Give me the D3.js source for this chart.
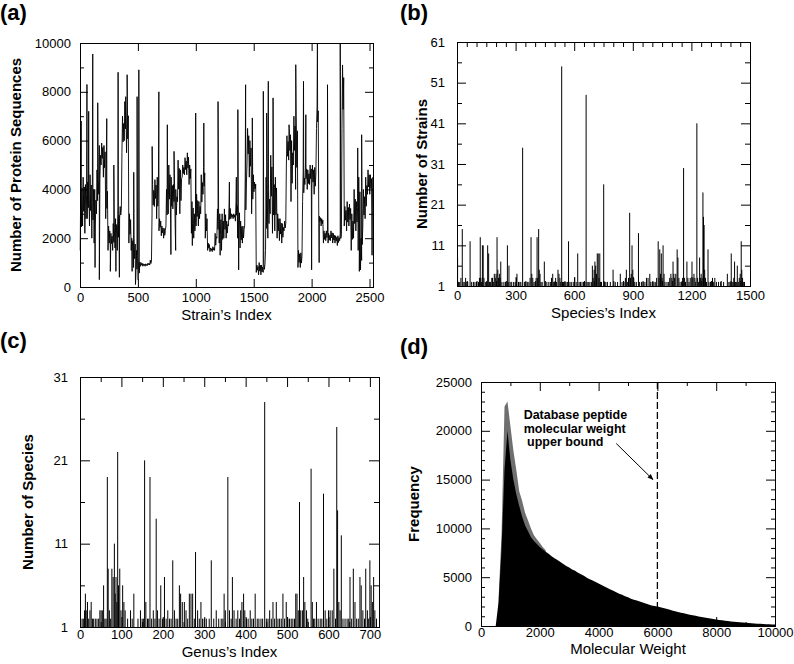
<!DOCTYPE html>
<html><head><meta charset="utf-8">
<script src="https://cdn.jsdelivr.net/npm/d3@7"></script>
<style>
body{margin:0;background:#fff}
svg text{font-family:"Liberation Sans",Arial,Helvetica,sans-serif;fill:#000}
</style></head><body>
<svg id="chart" width="794" height="664"></svg>
<script>
// ---------- (a) number of protein sequences per strain ----------
// dense series summarised per window of 20 strains: typical low / high of the window
const strainWindow = 20;
const proteinLow = [
1500,2500,2200,2800,2500,2000,1800,3000,3800,5000,
4500,2800,1500,1600,1500,1600,1500,2800,5500,6000,
5500,1800,1500,800,400,300,850,850,850,880,
900,3000,3300,2800,2300,2100,2000,2500,3000,2800,
3200,2500,3500,3000,4500,4600,4600,4200,2200,2000,
2500,2500,3000,3800,2000,1500,1450,1450,1500,2000,
1800,1500,2000,2000,2500,2800,2800,2700,2000,1600,
1800,2500,5000,4500,3000,3900,600,500,500,600,
1500,2000,3000,2200,2300,2000,1900,1800,2300,5000,
5200,3500,5000,4000,800,800,3500,4200,4000,4200,
4000,3800,6500,2600,2500,1800,1900,1800,1900,1800,
1800,1700,1900,6500,2500,2300,2500,1500,2000,2300,
1500,700,2500,2800,3800,3800,1300
];
const proteinHigh = [
4700,4500,4200,4300,4600,4500,4000,4800,5800,5900,
5800,4200,2500,2200,2600,2800,3300,3300,7000,7600,
7400,3000,2000,2000,1500,1200,1000,950,950,980,
1100,4200,4400,4500,2800,2500,2400,4000,5000,4500,
4200,4000,5200,4800,5000,5300,5500,5000,3500,3000,
3800,3500,4600,4900,3000,1800,1600,1650,2200,3200,
3000,3000,3200,2700,3400,3000,3000,3500,3300,2700,
2500,4700,6500,6000,5000,4300,900,1000,900,1000,
4500,4000,5400,4700,4500,3000,2800,2600,2700,6200,
6500,6000,7000,7000,1500,1400,4700,5000,4800,5000,
5000,4900,7400,2900,2800,2300,2300,2200,2300,2200,
2100,2100,2200,9100,3300,3500,3400,3000,4000,3500,
4500,2000,4000,4500,4800,4600,4500
];
// isolated single-strain excursions
const spikeStrain = [10,60,75,110,130,153,167,231,262,292,310,329,340,395,407,450,464,479,493,508,623,681,754,785,812,826,970,999,1069,1192,1210,1290,1350,1363,1370,1430,1488,1583,1612,1626,1667,1805,1863,1930,1950,2000,2050,2065,2137,2247,2398,2412,2432];
const spikeValue  = [6800,8300,7200,9550,800,7550,300,6900,640,5000,640,8800,400,7800,8700,640,4700,100,7800,8900,5760,8000,6650,1330,5560,1500,1700,7130,6720,7600,1300,4300,4500,7270,700,8290,6930,8020,7130,8430,7750,6650,9110,8430,7060,700,10000,1000,8290,10000,5700,640,6240];
const strainTicks = [0,500,1000,1500,2000,2500];
const proteinTicks = [0,2000,4000,6000,8000,10000];

// ---------- (b) number of strains per species (species with more than one strain) ----------
const speciesIndex = [3,8,14,20,27,31,37,44,50,55,67,75,84,92,100,110,115,119,122,126,130,134,138,145,152,157,162,167,172,178,182,186,191,196,200,205,209,213,217,221,224,230,240,248,258,262,266,272,280,290,298,304,307,315,322,327,336,345,352,360,368,374,379,383,388,394,400,405,410,413,418,421,425,430,436,447,460,470,478,484,490,495,500,505,510,517,522,527,531,536,540,545,552,558,565,571,578,585,595,602,610,618,625,632,640,648,655,661,666,672,680,688,693,697,702,706,710,714,718,723,727,731,735,740,751,756,762,770,785,799,810,822,836,845,855,862,867,872,878,884,888,892,896,900,905,910,918,929,935,945,953,962,970,978,987,992,1000,1008,1015,1022,1030,1034,1038,1042,1046,1050,1055,1060,1065,1075,1082,1089,1095,1100,1106,1110,1114,1120,1127,1131,1136,1142,1150,1155,1160,1165,1170,1177,1182,1188,1194,1203,1208,1213,1218,1222,1228,1232,1237,1242,1246,1250,1255,1259,1262,1265,1268,1272,1277,1285,1290,1298,1308,1314,1320,1328,1339,1350,1365,1384,1392,1398,1404,1408,1413,1417,1421,1425,1430,1435,1440,1445,1450,1455,1458,1462,1466,1472];
const strainsPerSpecies = [8,2,2,3,15,2,2,3,2,2,12,2,2,2,2,2,3,13,3,2,11,11,3,2,2,11,9,2,2,3,3,2,4,3,4,13,5,3,4,3,7,2,2,2,11,2,6,2,2,2,2,3,4,2,2,2,35,2,2,2,2,3,13,4,3,2,2,3,13,3,15,5,4,2,2,7,2,2,2,3,4,2,2,3,2,5,4,3,2,55,2,2,2,2,2,12,2,2,2,3,2,9,2,2,2,2,2,48,2,2,2,2,6,3,5,7,6,4,9,9,3,9,2,2,26,2,2,2,2,5,2,2,4,2,2,3,5,2,3,19,3,4,11,5,3,2,2,14,2,2,2,2,3,3,4,2,2,2,2,3,12,3,10,4,9,3,11,4,2,2,2,3,4,3,7,4,3,4,10,8,3,2,2,3,30,3,2,7,3,2,3,7,3,4,3,2,41,3,2,8,3,4,3,24,18,16,5,3,2,10,2,2,3,2,3,2,2,2,2,4,2,2,9,2,2,3,7,2,2,6,2,3,4,12,5,3,2,2];
const speciesTicks = [0,300,600,900,1200,1500];
const strainCountTicks = [1,11,21,31,41,51,61];

// ---------- (c) number of species per genus (genera with more than one species) ----------
const genusIndex = [5,8,11,13,15,18,21,24,27,30,33,37,41,45,48,51,54,57,60,63,66,68,71,74,77,80,83,85,87,89,91,93,96,99,103,106,109,115,122,126,130,140,146,150,153,156,159,163,166,169,173,177,181,184,187,191,195,199,204,208,212,216,220,224,228,232,236,240,243,247,252,256,260,264,268,272,276,279,284,288,292,296,300,305,312,317,323,329,335,341,345,348,351,357,361,365,368,372,377,381,385,388,391,395,398,402,406,411,415,419,423,428,432,437,441,446,450,454,458,462,466,470,474,478,482,486,490,494,498,502,506,510,514,518,521,524,527,530,533,537,540,543,547,550,558,561,564,567,571,575,580,584,588,592,596,600,604,609,613,617,620,622,625,628,631,635,640,645,649,652,656,660,664,668,672,676,679,683,687,690,694,697,700,703,706,709,712,716];
const speciesPerGenus = [2,2,3,5,3,4,2,3,4,2,2,2,2,2,3,3,3,6,2,2,19,8,3,2,8,7,11,5,7,4,22,6,8,3,6,4,3,2,3,2,5,2,3,2,2,21,4,2,2,19,2,3,2,14,3,2,6,2,7,2,3,2,2,9,3,2,2,6,5,4,4,3,2,5,5,5,2,10,3,2,4,2,2,2,2,9,2,3,2,2,2,5,3,19,3,2,7,3,2,3,2,3,4,5,3,2,2,3,2,2,5,2,2,2,2,28,2,2,3,2,4,2,4,2,2,2,5,2,4,2,2,2,2,2,5,5,3,16,3,3,7,4,3,2,20,4,2,2,4,2,2,2,17,3,2,3,3,3,8,2,25,15,4,3,12,2,2,2,2,7,2,8,4,2,2,7,6,3,2,8,3,2,9,6,4,7,3,2];
const genusTicks = [0,100,200,300,400,500,600,700];
const speciesCountTicks = [1,11,21,31];

// ---------- (d) molecular weight histogram (100 Da bins) ----------
const mwBins = [500,600,700,800,900,1000,1100,1200,1300,1400,1500,1600,1700,1800,1900,2000,2100,2200,2300,2400,2500,2600,2700,2800,2900,3000,3100,3200,3300,3400,3500,3600,3700,3800,3900,4000,4100,4200,4300,4400,4500,4600,4700,4800,4900,5000,5100,5200,5300,5400,5500,5600,5700,5800,5900,6000,6100,6200,6300,6400,6500,6600,6700,6800,6900,7000,7100,7200,7300,7400,7500,7600,7700,7800,7900,8000,8100,8200,8300,8400,8500,8600,8700,8800,8900,9000,9100,9200,9300,9400,9500,9600,9700,9800,9900,10000];
const freqBody = [0,2500,8000,16000,20000,17000,15000,13500,12300,11200,10300,9700,9100,8700,8400,8100,7850,7600,7400,7150,6950,6750,6550,6350,6150,6000,5800,5650,5450,5300,5150,4950,4800,4650,4500,4350,4200,4050,3900,3750,3600,3450,3300,3200,3050,2950,2800,2700,2600,2500,2400,2300,2200,2100,2050,2000,1920,1840,1760,1680,1600,1520,1440,1370,1300,1230,1160,1100,1040,980,920,860,810,760,710,660,620,580,540,500,470,440,410,380,350,330,300,280,260,240,220,200,185,170,160,150];
// lighter fringe of the tallest bins near the peak
const fringeBins = [600,700,800,900,1000,1100,1200,1300,1400,1500,1600,1700,1800,1900,2000,2100,2200];
const fringeFreq = [3000,9500,22500,23000,20500,18000,16000,13800,12800,11600,10800,10000,9300,8900,8500,8100,7750];
const mwTicks = [0,2000,4000,6000,8000,10000];
const freqTicks = [0,5000,10000,15000,20000,25000];
const mwUpperBound = 6000;
const annotationLines = ["Database peptide","molecular weight"," upper bound"];

const svg = d3.select("#chart");

function frame(cfg){
  const g = svg.append("g");
  const x = d3.scaleLinear().domain(cfg.xDomain).range([cfg.left, cfg.right]);
  const y = d3.scaleLinear().domain(cfg.yDomain).range([cfg.bottom, cfg.top]);
  const plot = g.append("g");
  const add = (gen, tr, labels) => {
    const a = g.append("g").attr("transform", tr).call(gen);
    a.select(".domain").remove();
    a.attr("font-size", 13).attr("font-family", null);
    a.selectAll("line").attr("stroke", "#000");
    if (!labels) a.selectAll("text").remove();
    return a;
  };
  const fmt = d3.format("d");
  add(d3.axisBottom(x).tickValues(cfg.xMajor).tickSize(-cfg.majLen).tickPadding(cfg.xPad).tickFormat(fmt), `translate(0,${cfg.bottom})`, true);
  add(d3.axisTop(x).tickValues(cfg.xMajor).tickSize(-cfg.majLen), `translate(0,${cfg.top})`, false);
  add(d3.axisLeft(y).tickValues(cfg.yMajor).tickSize(-cfg.majLen).tickPadding(cfg.yPad).tickFormat(fmt), `translate(${cfg.left},0)`, true);
  add(d3.axisRight(y).tickValues(cfg.yMajor).tickSize(-cfg.majLen), `translate(${cfg.right},0)`, false);
  if (cfg.xMinor) {
    add(d3.axisBottom(x).tickValues(cfg.xMinor).tickSize(-cfg.minLen), `translate(0,${cfg.bottom})`, false);
    add(d3.axisTop(x).tickValues(cfg.xMinor).tickSize(-cfg.minLen), `translate(0,${cfg.top})`, false);
  }
  if (cfg.yMinor) {
    add(d3.axisLeft(y).tickValues(cfg.yMinor).tickSize(-cfg.minLen), `translate(${cfg.left},0)`, false);
    add(d3.axisRight(y).tickValues(cfg.yMinor).tickSize(-cfg.minLen), `translate(${cfg.right},0)`, false);
  }
  g.append("rect").attr("x", cfg.left + 0.5).attr("y", cfg.top + 0.5)
    .attr("width", cfg.right - cfg.left).attr("height", cfg.bottom - cfg.top)
    .attr("fill", "none").attr("stroke", "#000").attr("stroke-width", 1);
  g.append("text").attr("x", (cfg.left + cfg.right) / 2).attr("y", cfg.xTitleY)
    .attr("text-anchor", "middle").attr("font-size", 15).text(cfg.xTitle);
  g.append("text").attr("transform", `translate(${cfg.yTitleX},${(cfg.top + cfg.bottom) / 2}) rotate(-90)`)
    .attr("text-anchor", "middle").attr("dy", "0.35em").attr("font-size", 15).attr("font-weight", "bold").text(cfg.yTitle);
  g.append("text").attr("x", cfg.labelX).attr("y", cfg.labelY)
    .attr("font-size", 22).attr("font-weight", "bold").text(cfg.label);
  return {x, y, plot};
}
const minorsBetween = (arr, step) => arr.slice(0, -1).map(v => v + step);

// ---------- panel (a) ----------
{
  const p = frame({left:80, right:373, top:43, bottom:287, xDomain:[0,2530], yDomain:[0,10000],
    xMajor: strainTicks, yMajor: proteinTicks,
    yMinor: minorsBetween(proteinTicks, 1000),
    majLen:8, minLen:4, xPad:6, yPad:9,
    xTitle:"Strain\u2019s Index", xTitleY:320, yTitle:"Number of Protein Sequences", yTitleX:16,
    label:"(a)", labelX:0, labelY:20});
  // trace: within each window the line runs from its low to its high, plus single-strain spikes
  const pts = [];
  proteinLow.forEach((lo, i) => {
    const s = i * strainWindow;
    pts.push([s + 2, lo], [s + 7, proteinHigh[i]], [s + 12, lo + (proteinHigh[i] - lo) * 0.3], [s + 17, proteinHigh[i] - (proteinHigh[i] - lo) * 0.2]);
  });
  spikeStrain.forEach((s, i) => pts.push([s, spikeValue[i]]));
  pts.sort((a, b) => a[0] - b[0]);
  p.plot.append("path").datum(pts.filter(d => d[0] <= 2530))
    .attr("d", d3.line().x(d => p.x(d[0])).y(d => p.y(d[1])))
    .attr("fill", "none").attr("stroke", "#000").attr("stroke-width", 0.9);
}

// ---------- panel (b) ----------
{
  const xMinor = d3.range(50, 1500, 50).filter(v => v % 300 !== 0);
  const p = frame({left:457, right:750, top:42, bottom:286, xDomain:[0,1500], yDomain:[1,61],
    xMajor: speciesTicks, yMajor: strainCountTicks,
    xMinor, yMinor: minorsBetween(strainCountTicks, 5),
    majLen:9, minLen:5, xPad:5, yPad:12,
    xTitle:"Species\u2019s Index", xTitleY:318, yTitle:"Number of Strains", yTitleX:422,
    label:"(b)", labelX:400, labelY:20});
  p.plot.selectAll("line").data(d3.zip(speciesIndex, strainsPerSpecies)).join("line")
    .attr("x1", d => p.x(d[0])).attr("x2", d => p.x(d[0]))
    .attr("y1", p.y(1)).attr("y2", d => p.y(d[1]))
    .attr("stroke", "#000").attr("stroke-width", 1);
}

// ---------- panel (c) ----------
{
  const xMinor = minorsBetween(genusTicks, 50);
  const p = frame({left:80, right:379, top:377, bottom:627, xDomain:[0,722], yDomain:[1,31],
    xMajor: genusTicks, yMajor: speciesCountTicks,
    xMinor, yMinor: minorsBetween(speciesCountTicks, 5),
    majLen:10, minLen:5, xPad:3, yPad:12,
    xTitle:"Genus\u2019s Index", xTitleY:657, yTitle:"Number of Species", yTitleX:28,
    label:"(c)", labelX:0, labelY:348});
  p.plot.selectAll("line").data(d3.zip(genusIndex, speciesPerGenus)).join("line")
    .attr("x1", d => p.x(d[0])).attr("x2", d => p.x(d[0]))
    .attr("y1", p.y(1)).attr("y2", d => p.y(d[1]))
    .attr("stroke", "#000").attr("stroke-width", 1);
}

// ---------- panel (d) ----------
{
  const p = frame({left:481, right:775, top:382, bottom:626, xDomain:[0,10000], yDomain:[0,25000],
    xMajor: mwTicks, yMajor: freqTicks,
    xMinor: minorsBetween(mwTicks, 1000),
    yMinor: d3.range(1000, 25000, 1000).filter(v => v % 5000 !== 0),
    majLen:9, minLen:4, xPad:2, yPad:9,
    xTitle:"Molecular Weight", xTitleY:654, yTitle:"Frequency", yTitleX:414,
    label:"(d)", labelX:400, labelY:354});
  p.plot.append("path").datum(d3.zip(fringeBins, fringeFreq))
    .attr("d", d3.area().x(d => p.x(d[0])).y0(p.y(0)).y1(d => p.y(d[1])))
    .attr("fill", "#6f6f6f");
  p.plot.append("path").datum(d3.zip(mwBins, freqBody))
    .attr("d", d3.area().x(d => p.x(d[0])).y0(p.y(0)).y1(d => p.y(d[1])))
    .attr("fill", "#000");
  p.plot.append("line")
    .attr("x1", p.x(mwUpperBound)).attr("x2", p.x(mwUpperBound))
    .attr("y1", p.y(25000)).attr("y2", p.y(0))
    .attr("stroke", "#000").attr("stroke-width", 1.3).attr("stroke-dasharray", "7,3");
  const t = svg.append("text").attr("font-size", 12.5).attr("font-weight", "bold")
    .attr("xml:space", "preserve");
  annotationLines.forEach((s, i) => {
    t.append("tspan").attr("x", p.x(1450)).attr("y", p.y(21200) + i * 13.5).text(s);
  });
  svg.append("defs").append("marker").attr("id", "ah").attr("viewBox", "0 0 10 10")
    .attr("refX", 9).attr("refY", 5).attr("markerWidth", 6).attr("markerHeight", 6)
    .attr("orient", "auto").append("path").attr("d", "M0,1 L10,5 L0,9 z").attr("fill", "#000");
  svg.append("line").attr("x1", p.x(4600)).attr("y1", p.y(18700))
    .attr("x2", p.x(5850)).attr("y2", p.y(15000))
    .attr("stroke", "#000").attr("stroke-width", 1).attr("marker-end", "url(#ah)");
}
</script>
</body></html>
